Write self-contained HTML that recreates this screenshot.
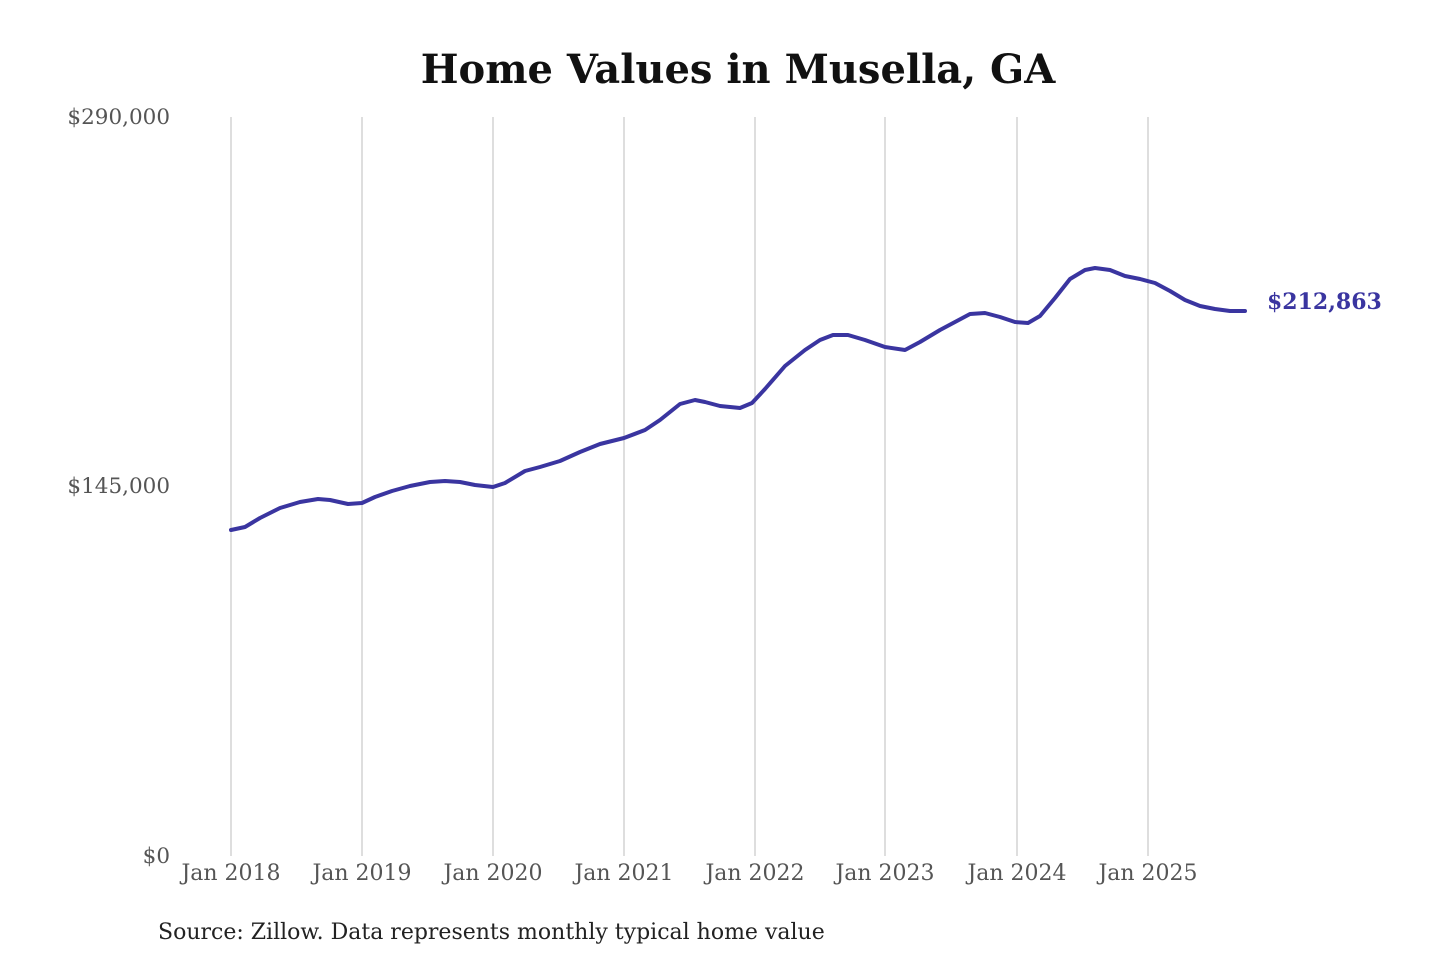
<!DOCTYPE html>
<html><head><meta charset="utf-8"><style>
html,body{margin:0;padding:0;background:#fff;}
svg{display:block;}
text{font-family:"DejaVu Serif","Liberation Serif",serif;}
</style></head><body>
<svg width="1440" height="960" viewBox="0 0 1440 960" xmlns="http://www.w3.org/2000/svg">
<text x="738" y="83" text-anchor="middle" font-size="40" font-weight="bold" fill="#111">Home Values in Musella, GA</text>
<g stroke="#c8c8c8" stroke-width="1.2">
<line x1="231" y1="117" x2="231" y2="856"/><line x1="362" y1="117" x2="362" y2="856"/>
<line x1="493" y1="117" x2="493" y2="856"/><line x1="624" y1="117" x2="624" y2="856"/>
<line x1="755" y1="117" x2="755" y2="856"/><line x1="885" y1="117" x2="885" y2="856"/>
<line x1="1017" y1="117" x2="1017" y2="856"/><line x1="1148" y1="117" x2="1148" y2="856"/>
</g>
<g font-size="21.5" fill="#555" text-anchor="end">
<text x="170" y="124">$290,000</text><text x="170" y="493">$145,000</text><text x="170" y="863">$0</text>
</g>
<g font-size="22" fill="#555" text-anchor="middle">
<text x="231" y="880">Jan 2018</text><text x="362" y="880">Jan 2019</text><text x="493" y="880">Jan 2020</text>
<text x="624" y="880">Jan 2021</text><text x="755" y="880">Jan 2022</text><text x="885" y="880">Jan 2023</text>
<text x="1017" y="880">Jan 2024</text><text x="1148" y="880">Jan 2025</text>
</g>
<polyline fill="none" stroke="#3a35a0" stroke-width="4" stroke-linejoin="round" stroke-linecap="round" points="231,530 245,527 260,518 280,508 300,502 318,499 330,500 348,504 362,503 375,497 392,491 410,486 430,482 445,481 460,482 475,485 493,487 505,483 525,471 540,467 560,461 580,452 600,444 624,438 645,430 660,420 680,404 695,400 705,402 720,406 740,408 752,403 765,389 785,366 805,350 820,340 833,335 848,335 865,340 885,347 905,350 920,342 940,330 955,322 970,314 985,313 1000,317 1015,322 1028,323 1040,316 1055,298 1070,279 1085,270 1095,268 1110,270 1125,276 1140,279 1155,283 1170,291 1185,300 1200,306 1215,309 1230,311 1245,311"/>
<text x="1267" y="309" font-size="22" font-weight="bold" fill="#3a35a0">$212,863</text>
<text x="158" y="939" font-size="22" fill="#222">Source: Zillow. Data represents monthly typical home value</text>
</svg>
</body></html>
